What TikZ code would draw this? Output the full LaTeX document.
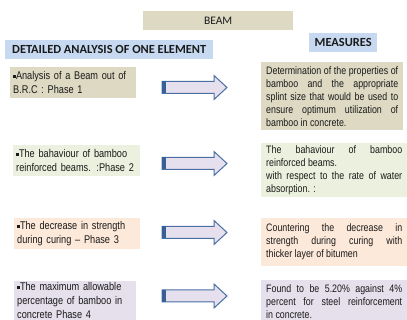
\documentclass[tikz,border=0pt]{standalone}
\usepackage{fontspec}
\setmainfont{Liberation Sans}
\newfontfamily\narrowfont[FakeStretch=0.82]{Liberation Sans}
\newfontfamily\calfont{Carlito}
\definecolor{tanfill}{HTML}{DDD9C3}
\definecolor{bluefill}{HTML}{C6D9F1}
\definecolor{greenfill}{HTML}{EBF1DE}
\definecolor{peachfill}{HTML}{FDE9D9}
\definecolor{lavfill}{HTML}{E5E0EC}
\definecolor{arrowfill}{HTML}{E6E0EE}
\definecolor{arrowline}{HTML}{4A6FA5}
\definecolor{arrowdark}{HTML}{3A5F95}
\definecolor{textgray}{HTML}{1A1A1A}
\newcommand\sqbullet{\rule[0.28ex]{2.8pt}{2.8pt}}
\newcommand\blockarrow[3]{%
  \coordinate (#1) at (#2,#3);
  \filldraw[arrowbody] (#2,#3-6) -- (#2+52,#3-6) -- (#2+52,#3-12) -- (#2+65,#3)
     -- (#2+52,#3+12) -- (#2+52,#3+6) -- (#2,#3+6) -- cycle;
  \fill[arrowdark] (#2,#3-6) rectangle (#2+3.5,#3+6);
}
\tikzset{
  arrowbody/.style={fill=arrowfill, draw=arrowline, line width=1pt, line join=miter},
  hdr/.style={anchor=north west, inner sep=0pt, font=\calfont\bfseries\fontsize{12.4}{14}\selectfont, text=textgray},
  lbox/.style={anchor=north west, inner xsep=3pt, inner ysep=0pt, align=left,
    font=\narrowfont\fontsize{11.2}{14}\selectfont, text=textgray},
  rbox/.style={anchor=north west, inner xsep=5pt, inner ysep=0pt, align=justify,
    font=\narrowfont\fontsize{10.8}{13}\selectfont, text=textgray},
}
\begin{document}
\begin{tikzpicture}[x=1pt,y=-1pt]
\useasboundingbox (0,0) rectangle (407,320);
% headers
\node[hdr, fill=tanfill, minimum width=150, minimum height=19, font=\calfont\fontsize{11.5}{13}\selectfont] (beam) at (143,11) {BEAM};
\node[hdr, fill=bluefill, minimum width=208, minimum height=19] (detail) at (5,40) {DETAILED ANALYSIS OF ONE ELEMENT};
\node[hdr, fill=bluefill, minimum width=68, minimum height=19] (measures) at (309,33) {MEASURES};
% left boxes
\node[lbox, fill=tanfill, text width=120, minimum height=31] (l1) at (10,67)
  {\sqbullet Analysis of a Beam out of\\B.R.C : Phase 1};
\node[lbox, fill=greenfill, text width=121, minimum height=31] (l2) at (13,145)
  {\sqbullet The bahaviour of bamboo\\reinforced beams. :Phase 2};
\node[lbox, fill=peachfill, text width=120, minimum height=31] (l3) at (14,218)
  {\sqbullet The decrease in strength\\during curing – Phase 3};
\node[lbox, fill=lavfill, text width=116, minimum height=39] (l4) at (14,281)
  {\sqbullet The maximum allowable\\percentage of bamboo in\\concrete Phase 4};
% arrows
\blockarrow{a1}{162}{87.5}
\blockarrow{a2}{162}{163.5}
\blockarrow{a3}{162}{232.5}
\blockarrow{a4}{162}{296}
% right boxes
\node[rbox, fill=tanfill, text width=132, minimum height=68] (r1) at (261,62)
  {Determination of the properties of\linebreak bamboo and the appropriate\linebreak splint size that would be used to\linebreak ensure optimum utilization of\linebreak bamboo in concrete.};
\node[rbox, fill=greenfill, text width=136, minimum height=54] (r2) at (261,143)
  {The bahaviour of bamboo\linebreak reinforced beams.\\with respect to the rate of water\linebreak absorption. :};
\node[rbox, fill=peachfill, text width=136, minimum height=48] (r3) at (261,218)
  {Countering the decrease in\linebreak strength during curing with\linebreak thicker layer of bitumen};
\node[rbox, fill=lavfill, text width=136, minimum height=42] (r4) at (261,280)
  {Found to be 5.20\% against 4\%\linebreak percent for steel reinforcement\linebreak in concrete.};
\end{tikzpicture}
\end{document}
